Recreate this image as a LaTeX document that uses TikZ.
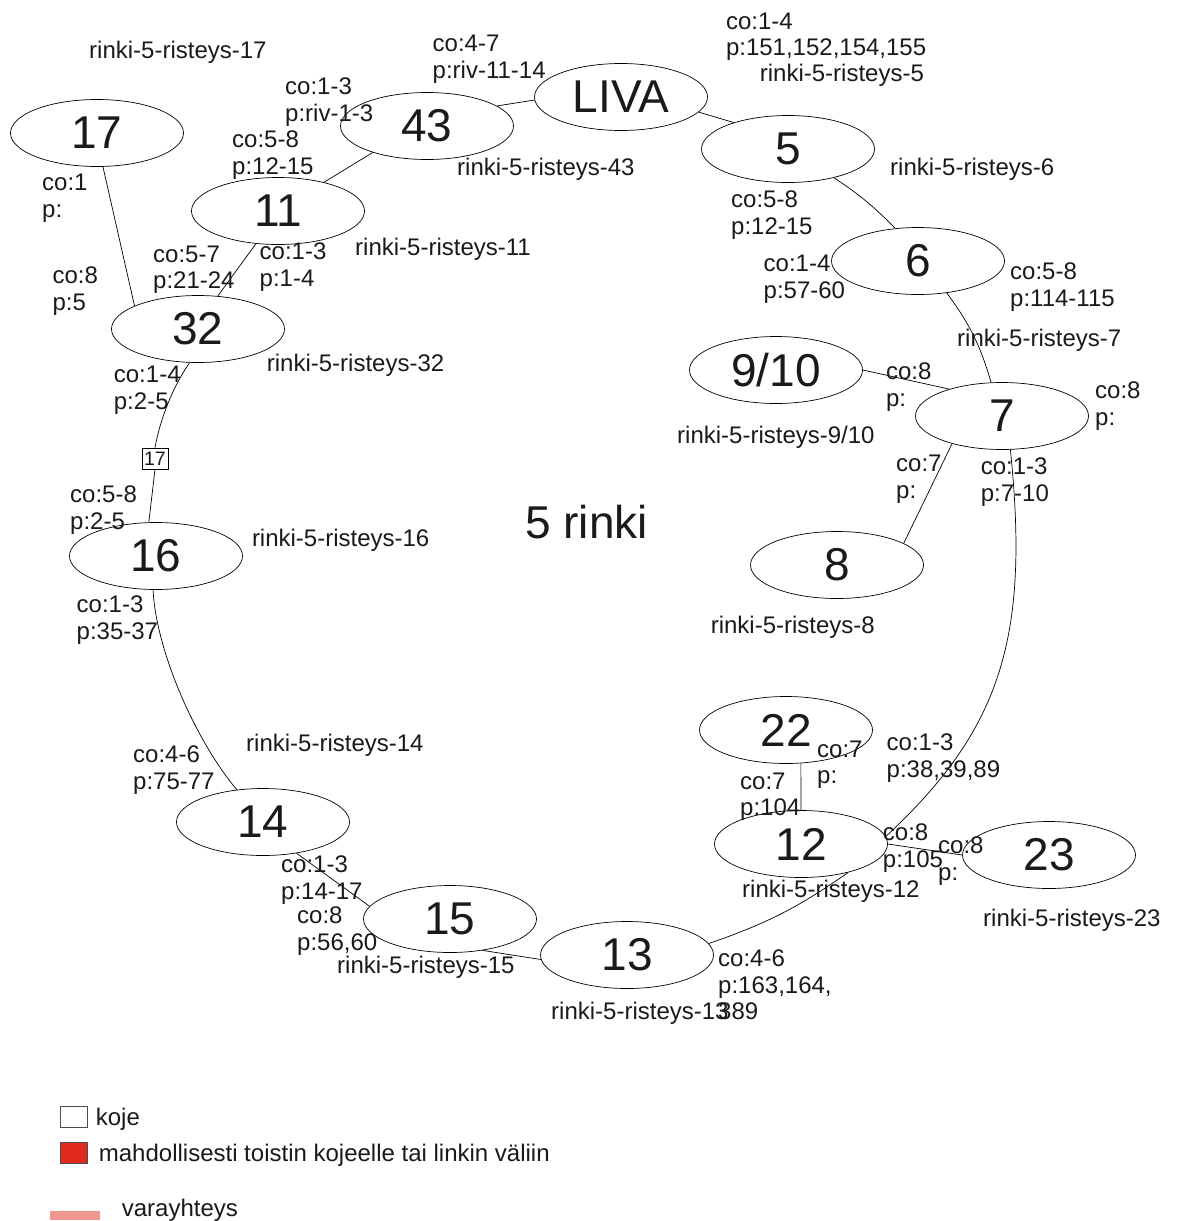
\documentclass[tikz,border=0pt]{standalone}
\usepackage{fontspec}
\setmainfont{Liberation Sans}
\usetikzlibrary{shapes.geometric}
\definecolor{txt}{HTML}{1A1A1A}
\definecolor{redbox}{HTML}{E02A1E}
\definecolor{pinkbar}{HTML}{EE9890}
\begin{document}
\begin{tikzpicture}[x=1pt,y=-1pt,
  junction/.style={ellipse, draw=black, line width=0.7pt, fill=white, minimum width=173pt, minimum height=67pt, inner sep=0pt, font=\fontsize{46}{46}\selectfont, text=txt},
  lbl/.style={anchor=north west, inner sep=0pt, align=left, font=\fontsize{24}{26.5}\selectfont, text=txt},
  biglbl/.style={anchor=north west, inner sep=0pt, font=\fontsize{46}{46}\selectfont, text=txt},
  link/.style={line width=0.7pt, draw=black},
  smallbox/.style={draw=black, line width=0.6pt, fill=white, inner sep=1.5pt, minimum width=26pt, minimum height=21pt, font=\fontsize{19.5}{19.5}\selectfont, text=txt},
  legbox/.style={draw=black!70, line width=0.8pt, minimum width=27pt, minimum height=21pt, inner sep=0pt}
]
\useasboundingbox (0,0) rectangle (1177,1221);
\fill[white] (0,0) rectangle (1177,1221);

% junctions
\node[junction] (n17) at (97,133) {17};
\node[junction] (n43) at (427,126) {43};
\node[junction] (LIVA) at (621,97) {LIVA};
\node[junction] (n5) at (788,149) {5};
\node[junction] (n11) at (278,211) {11};
\node[junction] (n6) at (918,261) {6};
\node[junction] (n32) at (198,329) {32};
\node[junction] (n910) at (776,370) {9/10};
\node[junction] (n7) at (1002,416) {7};
\node[junction] (n16) at (156,556) {16};
\node[junction] (n8) at (837,565) {8};
\node[junction] (n22) at (786,730) {22};
\node[junction] (n12) at (801,844) {12};
\node[junction] (n23) at (1049,855) {23};
\node[junction] (n14) at (263,822) {14};
\node[junction] (n15) at (450,919) {15};
\node[junction] (n13) at (627,955) {13};
\node[smallbox] (box17) at (155,458.5) {17};

% connectors
\draw[link] (n17.-80) -- (n32.160);
\draw[link] (n32.59.5) -- (n11.236);
\draw[link] (n11.32) -- (n43.206);
\draw[link] (n43.16) -- (LIVA.182);
\draw[link] (LIVA.-11) -- (n5.154);
\draw[link] (n5.-32) to[bend left=6] (n6.125);
\draw[link] (n6.-48) to[bend left=10] (n7.108);
\draw[link] (n910.east) -- (n7.153);
\draw[link] (n7.209) -- (n8.18);
\draw[link] (n7.-76) .. controls (1030,640) and (1000,730) .. (n12.5);
\draw[link] (n22.-66) -- (n12.north);
\draw[link] (n12.east) -- (n23.west);
\draw[link] (n12.-31) to[bend left=8] (n13.8);
\draw[link] (n13.183) -- (n15.-44);
\draw[link] (n15.171) -- (n14.-43.5);
\draw[link] (n16.-95) .. controls (156,650) and (195,740) .. (n14.129);
\draw[link] (n32.-104) .. controls (172,388) and (160,420) .. (box17.north);
\draw[link] (box17.south) -- (n16.102);

% labels
\node[lbl] (t1) at (725.8,12.7) {co:1-4\\p:151,152,154,155};
\node[lbl] (t2) at (759.7,64) {rinki-5-risteys-5};
\node[lbl] (t3) at (432.5,35) {co:4-7\\p:riv-11-14};
\node[lbl] (t4) at (89,41) {rinki-5-risteys-17};
\node[lbl] (t5) at (285,78) {co:1-3\\p:riv-1-3};
\node[lbl] (t6) at (457,158) {rinki-5-risteys-43};
\node[lbl] (t7) at (232,131) {co:5-8\\p:12-15};
\node[lbl] (t8) at (890,158) {rinki-5-risteys-6};
\node[lbl] (t9) at (731,191) {co:5-8\\p:12-15};
\node[lbl] (t10) at (42,174) {co:1\\p:};
\node[lbl] (t11) at (355,238) {rinki-5-risteys-11};
\node[lbl] (t12) at (153,245.7) {co:5-7\\p:21-24};
\node[lbl] (t13) at (259.5,243) {co:1-3\\p:1-4};
\node[lbl] (t14) at (763.5,255) {co:1-4\\p:57-60};
\node[lbl] (t15) at (1010,263) {co:5-8\\p:114-115};
\node[lbl] (t16) at (52.4,266.7) {co:8\\p:5};
\node[lbl] (t17) at (957,329) {rinki-5-risteys-7};
\node[lbl] (t18) at (266.7,354) {rinki-5-risteys-32};
\node[lbl] (t19) at (113.7,366) {co:1-4\\p:2-5};
\node[lbl] (t20) at (885.8,363) {co:8\\p:};
\node[lbl] (t21) at (1095,382) {co:8\\p:};
\node[lbl] (t22) at (677,426) {rinki-5-risteys-9/10};
\node[lbl] (t23) at (896,455) {co:7\\p:};
\node[lbl] (t24) at (980.6,458) {co:1-3\\p:7-10};
\node[lbl] (t25) at (70,486) {co:5-8\\p:2-5};
\node[biglbl] (title) at (525,505) {5 rinki};
\node[lbl] (t26) at (251.8,529) {rinki-5-risteys-16};
\node[lbl] (t27) at (76.5,596) {co:1-3\\p:35-37};
\node[lbl] (t28) at (710.6,616) {rinki-5-risteys-8};
\node[lbl] (t29) at (246,734) {rinki-5-risteys-14};
\node[lbl] (t30) at (133,746) {co:4-6\\p:75-77};
\node[lbl] (t31) at (817,740.7) {co:7\\p:};
\node[lbl] (t32) at (886.5,734) {co:1-3\\p:38,39,89};
\node[lbl] (t33) at (740,772.7) {co:7\\p:104};
\node[lbl] (t34) at (882.7,824) {co:8\\p:105};
\node[lbl] (t35) at (938,836.7) {co:8\\p:};
\node[lbl] (t36) at (742,880) {rinki-5-risteys-12};
\node[lbl] (t37) at (281,856) {co:1-3\\p:14-17};
\node[lbl] (t38) at (297,907) {co:8\\p:56,60};
\node[lbl] (t39) at (983,909) {rinki-5-risteys-23};
\node[lbl] (t40) at (337,956) {rinki-5-risteys-15};
\node[lbl] (t41) at (718,950) {co:4-6\\p:163,164,\\389};
\node[lbl] (t42) at (551,1002) {rinki-5-risteys-13};

% legend
\node[legbox, fill=white] (lg1) at (74,1117) {};
\node[lbl] (lt1) at (95.7,1108) {koje};
\node[legbox, fill=redbox] (lg2) at (74,1153) {};
\node[lbl] (lt2) at (98.7,1144) {mahdollisesti toistin kojeelle tai linkin väliin};
\fill[pinkbar] (50,1211) rectangle (100,1220);
\node[lbl] (lt3) at (121.7,1198.5) {varayhteys};
\end{tikzpicture}
\end{document}
